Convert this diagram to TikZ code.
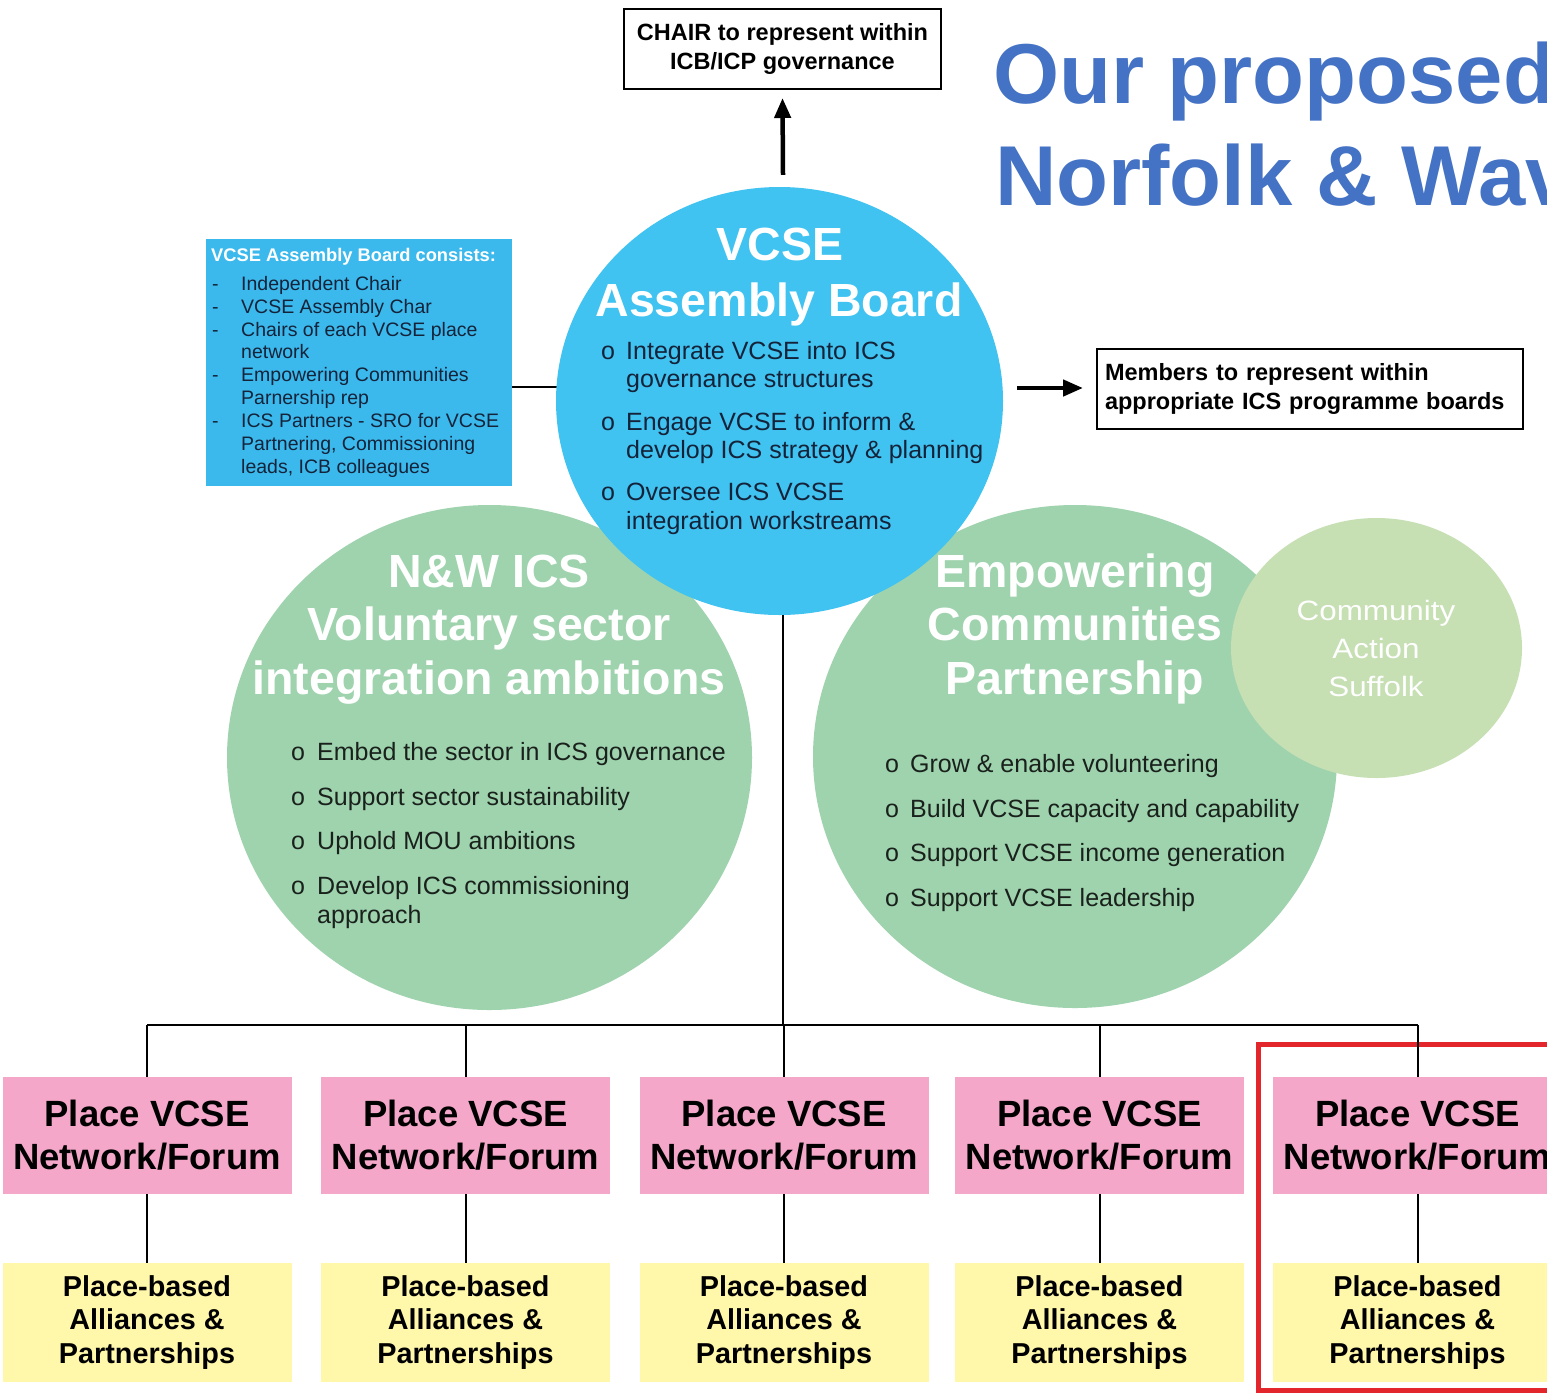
\documentclass[tikz,border=0pt]{standalone}
\usepackage{fontspec}
\setmainfont{Liberation Sans}
\newfontfamily\widefont[FakeStretch=1.12]{Liberation Sans}
\usetikzlibrary{arrows.meta,shapes.geometric,calc}
\definecolor{titleblue}{HTML}{4472C4}
\definecolor{circblue}{HTML}{40C3F0}
\definecolor{boxblue}{HTML}{3BB9EC}
\definecolor{circgreen}{HTML}{9ED3AE}
\definecolor{lightgreen}{HTML}{C6DFB3}
\definecolor{pinkc}{HTML}{F4A7C9}
\definecolor{yellowc}{HTML}{FFF7AA}
\definecolor{redc}{HTML}{E3262B}
\definecolor{navytext}{HTML}{14233A}
\definecolor{darktext}{HTML}{1A211C}
\newcommand\mytxt[4]{\node[#1] (#2) at (#3) {#4};}
\begin{document}
\begin{tikzpicture}[x=1pt,y=-1pt,
  title/.style={anchor=base west, inner sep=0, text=titleblue, font=\bfseries\fontsize{85}{102}\selectfont},
  heading/.style={anchor=base, inner sep=0, text=white, font=\bfseries\fontsize{46.5}{54}\selectfont},
  bul/.style={anchor=base west, inner sep=0, font=\fontsize{25}{29}\selectfont},
  bulblue/.style={bul, text=navytext},
  bulgreen/.style={bul, text=darktext},
  outlinebox/.style={draw=black, line width=2, inner sep=0, font=\bfseries\fontsize{23.5}{28.5}\selectfont},
  pinkbox/.style={fill=pinkc, minimum width=289, minimum height=117, inner sep=0, align=center, font=\bfseries\fontsize{36.5}{43}\selectfont},
  yellowbox/.style={fill=yellowc, minimum width=289, minimum height=119, inner sep=0, align=center, font=\bfseries\fontsize{28.8}{33.5}\selectfont},
  thinline/.style={draw=black, line width=2},
  bigarrow/.style={draw=black, line width=4.5, -{Triangle[length=20pt,width=16pt]}},
  listtxt/.style={anchor=base west, inner sep=0, text=navytext, font=\fontsize{19.5}{22.9}\selectfont}
]
\clip (0,0) rectangle (1547,1393);
\fill[white] (0,0) rectangle (1547,1393);

% title
\mytxt{title}{t1}{993,103}{Our proposed}
\mytxt{title}{t2}{995,205}{Norfolk \& Wav}

% top boxes
\node[outlinebox, minimum width=317, minimum height=80, align=center] (chair) at (782.5,49) {CHAIR to represent within\\ICB/ICP governance};
\node[outlinebox, anchor=west, minimum height=80, inner xsep=8, text width=410, align=left] (members) at (1096,389) {Members to represent within\\appropriate ICS programme boards};

% red highlight
\node[draw=redc, line width=5, minimum width=310, minimum height=346, inner sep=0] (focus) at (1413,1217) {};

% bus lines
\coordinate (bus) at (783,1025);
\coordinate (c387) at (0,387);

% green circles
\node[ellipse, fill=circgreen, minimum width=525, minimum height=505, inner sep=0] (nw) at (489.5,757.5) {};
\node[ellipse, fill=circgreen, minimum width=524, minimum height=503, inner sep=0] (ecp) at (1075,756.5) {};
\node[ellipse, fill=lightgreen, minimum width=291, minimum height=260, inner sep=0] (cas) at (1376.5,648) {};

% blue box and connector
\node[fill=boxblue, minimum width=306, minimum height=247, inner sep=0] (abox) at (359,362.5) {};
\draw[thinline] (abox.east |- c387) -- (560,387) coordinate (jn);

% vertical trunk
\draw[thinline] (783,560) coordinate (trunktop) -- (bus);

% blue circle
\node[ellipse, fill=circblue, minimum width=447, minimum height=428, inner sep=0] (vcse) at (779.5,401) {};

% arrows
\draw[bigarrow] ($(vcse.north)+(3.5,-12)$) -- ($(chair.south)+(0,8)$);
\draw[bigarrow] ($(members.west)+(-79,-1)$) -- ($(members.west)+(-13,-1)$);

% VCSE circle text
\mytxt{heading}{h1}{780,260}{VCSE}
\mytxt{heading}{h2}{779,316}{Assembly Board}
\mytxt{bulblue}{bo1}{601,359}{o}
\mytxt{bulblue}{b1a}{626,359}{Integrate VCSE into ICS}
\mytxt{bulblue}{b1b}{626,387.5}{governance structures}
\mytxt{bulblue}{bo2}{601,430}{o}
\mytxt{bulblue}{b2a}{626,430}{Engage VCSE to inform \&}
\mytxt{bulblue}{b2b}{626,458.5}{develop ICS strategy \& planning}
\mytxt{bulblue}{bo3}{601,500}{o}
\mytxt{bulblue}{b3a}{626,500}{Oversee ICS VCSE}
\mytxt{bulblue}{b3b}{626,529}{integration workstreams}

% N&W circle text
\mytxt{heading}{g1}{489,587}{N\&W ICS}
\mytxt{heading}{g2}{489,640}{Voluntary sector}
\mytxt{heading}{g3}{489,694}{integration ambitions}
\mytxt{bulgreen}{go1}{291,760}{o}
\mytxt{bulgreen}{g1a}{317,760}{Embed the sector in ICS governance}
\mytxt{bulgreen}{go2}{291,805}{o}
\mytxt{bulgreen}{g2a}{317,805}{Support sector sustainability}
\mytxt{bulgreen}{go3}{291,849}{o}
\mytxt{bulgreen}{g3a}{317,849}{Uphold MOU ambitions}
\mytxt{bulgreen}{go4}{291,894}{o}
\mytxt{bulgreen}{g4a}{317,894}{Develop ICS commissioning}
\mytxt{bulgreen}{g4b}{317,923}{approach}

% ECP circle text
\mytxt{heading}{e1}{1075,587}{Empowering}
\mytxt{heading}{e2}{1075,640}{Communities}
\mytxt{heading}{e3}{1075,694}{Partnership}
\mytxt{bulgreen}{eo1}{885,772}{o}
\mytxt{bulgreen}{e1a}{910,772}{Grow \& enable volunteering}
\mytxt{bulgreen}{eo2}{885,817}{o}
\mytxt{bulgreen}{e2a}{910,817}{Build VCSE capacity and capability}
\mytxt{bulgreen}{eo3}{885,861}{o}
\mytxt{bulgreen}{e3a}{910,861}{Support VCSE income generation}
\mytxt{bulgreen}{eo4}{885,906}{o}
\mytxt{bulgreen}{e4a}{910,906}{Support VCSE leadership}

% Community Action Suffolk
\node[anchor=base, inner sep=0, text=white, font=\widefont\fontsize{28}{38}\selectfont] (cas1) at (1376,620) {Community};
\node[anchor=base, inner sep=0, text=white, font=\widefont\fontsize{28}{38}\selectfont] (cas2) at (1376,658) {Action};
\node[anchor=base, inner sep=0, text=white, font=\widefont\fontsize{28}{38}\selectfont] (cas3) at (1376,696) {Suffolk};

% assembly board box text
\node[anchor=base west, inner sep=0, text=white, font=\bfseries\fontsize{18.3}{22}\selectfont] (ah) at (211,261) {VCSE Assembly Board consists:};
\mytxt{listtxt}{ad1}{212,290}{-}
\mytxt{listtxt}{a1}{241,290}{Independent Chair}
\mytxt{listtxt}{ad2}{212,313}{-}
\mytxt{listtxt}{a2}{241,313}{VCSE Assembly Char}
\mytxt{listtxt}{ad3}{212,336}{-}
\mytxt{listtxt}{a3}{241,336}{Chairs of each VCSE place}
\mytxt{listtxt}{a3b}{241,358}{network}
\mytxt{listtxt}{ad4}{212,381}{-}
\mytxt{listtxt}{a4}{241,381}{Empowering Communities}
\mytxt{listtxt}{a4b}{241,404}{Parnership rep}
\mytxt{listtxt}{ad5}{212,427}{-}
\mytxt{listtxt}{a5}{241,427}{ICS Partners - SRO for VCSE}
\mytxt{listtxt}{a5b}{241,450}{Partnering, Commissioning}
\mytxt{listtxt}{a5c}{241,473}{leads, ICB colleagues}

% place boxes
\foreach \i/\x in {1/147,2/465.5,3/784,4/1099.5,5/1417.5}{
  \node[pinkbox] (p\i) at (\x,1135.5) {Place VCSE\\Network/Forum};
  \node[yellowbox] (y\i) at (\x,1322.5) {Place-based\\Alliances \&\\Partnerships};
}
\draw[thinline] (p1.north |- bus) -- (p5.north |- bus);
\foreach \i in {1,...,5}{
  \draw[thinline] (p\i.north |- bus) -- (p\i.north);
  \draw[thinline] (p\i.south) -- (y\i.north);
}
\end{tikzpicture}
\end{document}
